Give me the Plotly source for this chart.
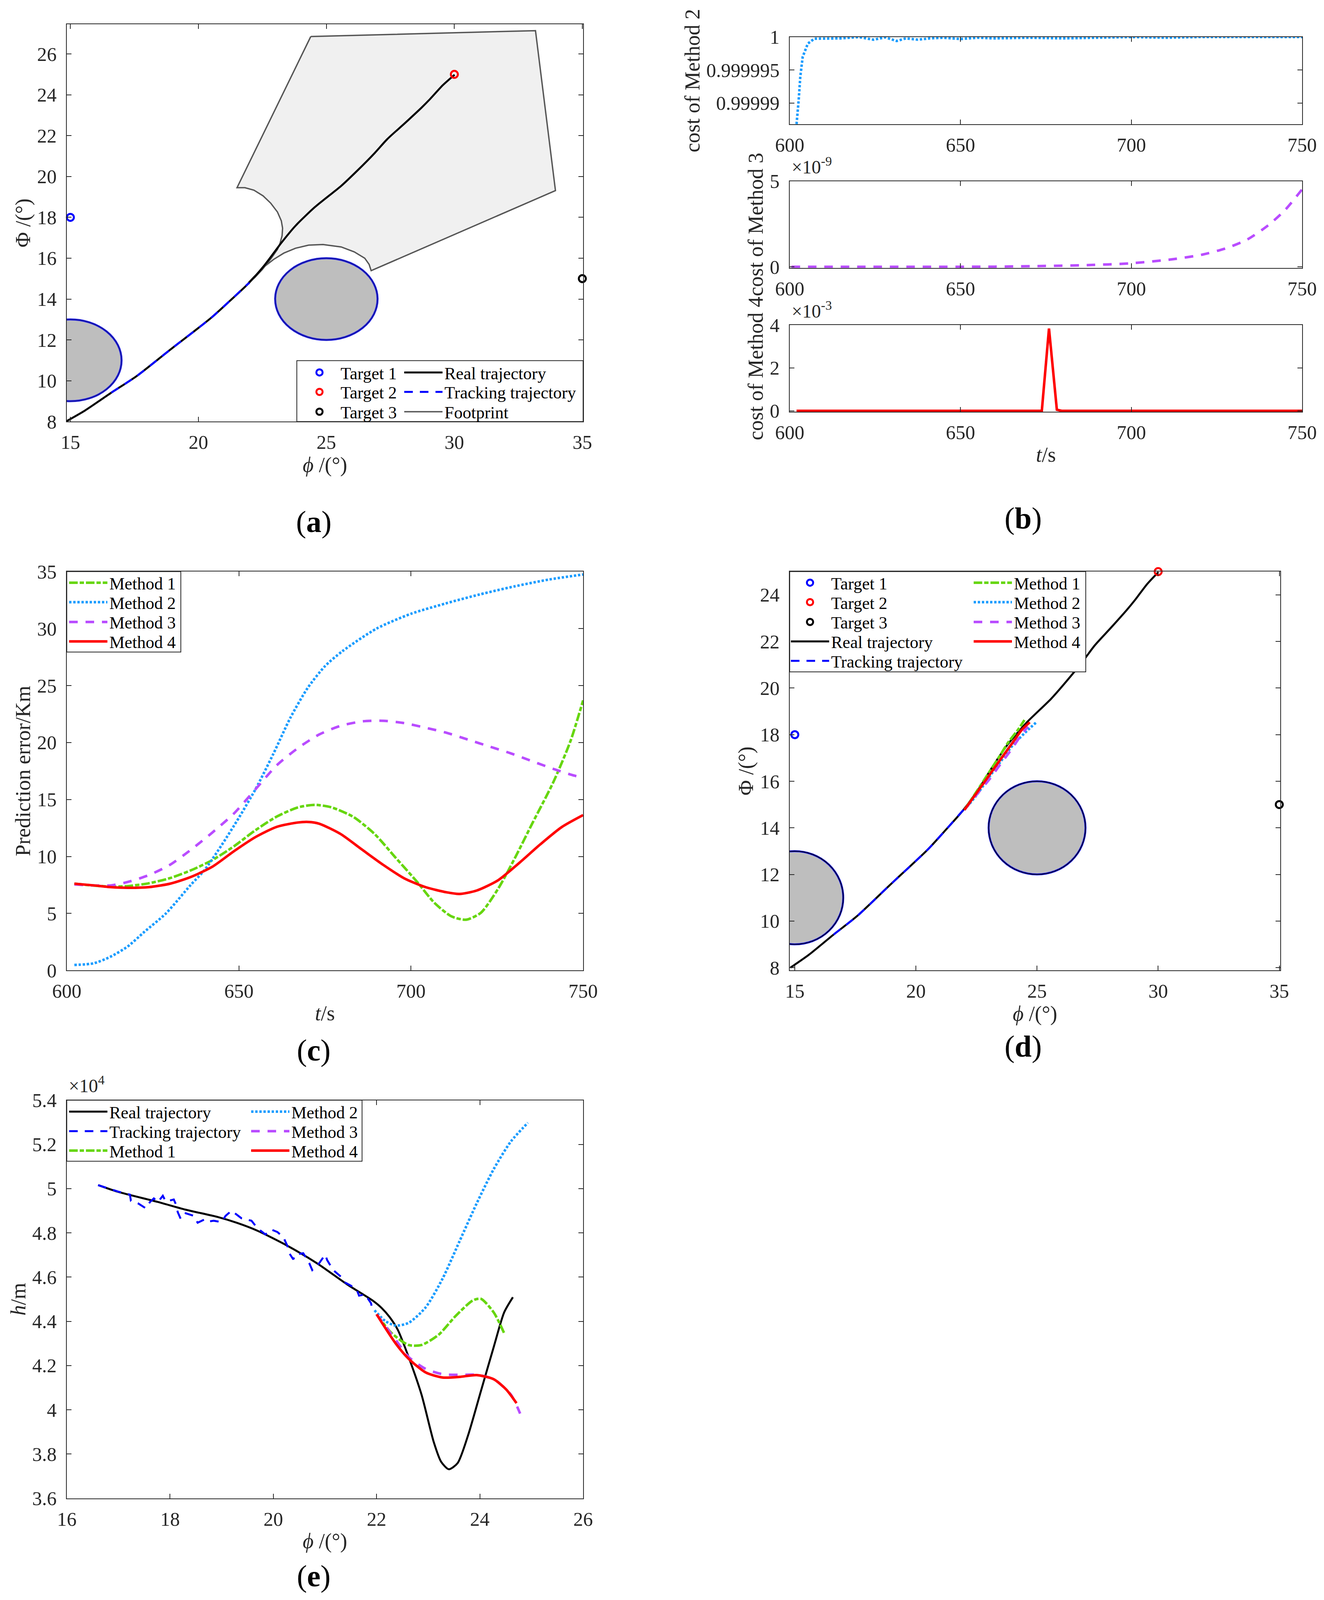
import plotly.graph_objects as go

REF_W, REF_H = 3390, 4277          # reference canvas, used for relative placement
FONT = "Liberation Serif"
AXC = "#262626"

# ---------------- data ----------------
# (a)/(d): longitude phi, latitude Phi (deg)
REAL_PHI = [14.82, 15.58, 16.58, 17.58, 18.91, 20.49, 21.23, 21.92, 22.56, 23.24, 23.79,
            24.56, 25.58, 26.22, 26.89, 27.38, 28.05, 28.71, 29.05, 29.55, 30.01]
REAL_LAT = [8.00, 8.55, 9.40, 10.22, 11.53, 13.07, 13.91, 14.72, 15.62, 16.75, 17.58,
            18.51, 19.54, 20.30, 21.15, 21.83, 22.59, 23.36, 23.79, 24.47, 24.98]
TRACK_PHI = [16.60, 17.58, 18.90, 20.48, 21.22, 21.92, 22.00]
TRACK_LAT = [9.42, 10.22, 11.52, 13.06, 13.90, 14.72, 14.80]

TARGET_NAMES = ["Target 1", "Target 2", "Target 3"]
TARGET_PHI = [15, 30, 35]
TARGET_LAT = [18, 25, 15]
TARGET_COLORS = ["#0000FF", "#FF0000", "#000000"]

OBST_PHI = [15, 25]
OBST_LAT = [11, 14]
OBST_R = [2, 2]

FOOT_PHI = [24.39, 33.17, 33.95, 26.75, 26.67, 26.50, 26.09, 25.58, 24.87, 24.31, 23.80,
            23.34, 22.94, 22.63, 22.43, 22.17, 21.95, 22.20, 22.50, 22.85, 23.09, 23.19,
            23.27, 23.29, 23.24, 23.09, 22.83, 22.53, 22.17, 21.82, 21.51, 24.39]
FOOT_LAT = [26.85, 27.14, 19.31, 15.39, 15.70, 16.00, 16.31, 16.55, 16.67, 16.64, 16.49,
            16.25, 15.94, 15.64, 15.39, 15.09, 14.80, 15.05, 15.45, 16.00, 16.43, 16.73,
            17.10, 17.47, 17.83, 18.26, 18.69, 19.05, 19.33, 19.45, 19.45, 26.85]

# (d) predicted ground tracks
D_M1_PHI = [22.0, 22.5, 23.0, 23.5, 23.79, 24.22, 24.48]
D_M1_LAT = [14.77, 15.55, 16.35, 17.15, 17.64, 18.22, 18.63]
D_M2_PHI = [22.0, 22.5, 23.03, 23.5, 24.0, 24.64, 24.97]
D_M2_LAT = [14.77, 15.40, 16.19, 16.85, 17.55, 18.22, 18.53]
D_M3_PHI = [22.0, 22.5, 23.03, 23.5, 24.0, 24.3, 24.62]
D_M3_LAT = [14.77, 15.42, 16.08, 16.75, 17.45, 17.92, 18.35]
D_M4_PHI = [22.0, 22.5, 23.0, 23.5, 24.0, 24.38, 24.70]
D_M4_LAT = [14.77, 15.49, 16.22, 16.95, 17.67, 18.22, 18.53]

# (b) cost values vs time
B2_T = [601.2, 602.0, 602.6, 603.1, 603.8, 605.3, 607.2, 610.0, 615.0, 620.2, 624.5, 628.0,
        631.3, 634.0, 637.5, 641.0, 645.0, 650.0, 655.0, 660.0, 670.0, 680.0, 690.0, 700.0,
        710.0, 720.0, 730.0, 740.0, 750.0]
B2_V = [0.99998, 0.9999868, 0.9999903, 0.999994, 0.999997, 0.999999, 0.99999975, 0.9999998,
        0.9999998, 1.0, 0.9999996, 0.99999995, 0.9999994, 0.9999998, 0.9999996, 0.9999998,
        0.9999999, 0.9999997, 0.9999999, 0.9999998, 0.9999999, 0.9999998, 0.9999999, 1.0,
        0.9999999, 1.0, 1.0, 1.0, 1.0]
B3_T = [600.5, 620, 640, 660, 672, 687, 699.5, 712, 720.5, 728, 734, 740, 745, 750]
B3_V = [0, 0, 0, 0.01e-9, 0.04e-9, 0.1e-9, 0.2e-9, 0.44e-9, 0.7e-9, 1.1e-9, 1.6e-9,
        2.41e-9, 3.31e-9, 4.52e-9]
B4_T = [602.0, 673.8, 675.9, 678.2, 679.6, 750.0]
B4_V = [0, 0, 3.84e-3, 0.05e-3, 0, 0]

# (c) prediction error (km)
C_M1_T = [602.2, 607.8, 612.7, 617.7, 623.9, 630.0, 636.2, 642.4, 648.6, 654.8, 661.0, 667.1,
          672.1, 677.0, 683.2, 689.4, 695.6, 701.8, 706.7, 711.7, 716.0, 720.3, 725.3, 730.2,
          735.2, 741.3, 746.3, 750.0]
C_M1_E = [7.61, 7.45, 7.35, 7.40, 7.65, 8.10, 8.80, 9.70, 10.90, 12.30, 13.50, 14.30, 14.53,
          14.30, 13.48, 11.98, 9.87, 7.76, 5.96, 4.75, 4.45, 5.06, 7.16, 9.87, 12.88, 16.49,
          20.10, 23.70]
C_M2_T = [602.2, 607.8, 612.7, 617.7, 622.6, 628.8, 636.0, 640.0, 645.0, 650.0, 655.0, 660.0,
          665.0, 670.0, 675.0, 680.0, 690.0, 700.0, 710.0, 720.0, 730.0, 740.0, 750.0]
C_M2_E = [0.48, 0.62, 1.20, 2.10, 3.40, 5.00, 7.50, 8.80, 11.00, 13.40, 16.00, 19.00, 22.20,
          24.80, 26.70, 28.00, 30.00, 31.30, 32.20, 33.00, 33.70, 34.30, 34.75]
C_M3_T = [602.2, 607.2, 612.7, 617.7, 623.9, 630.0, 636.2, 642.4, 648.6, 654.8, 661.0, 667.1,
          673.3, 679.5, 685.7, 691.9, 698.1, 704.2, 710.4, 716.6, 722.8, 729.0, 735.2, 741.3,
          747.5, 750.0]
C_M3_E = [7.55, 7.46, 7.46, 7.76, 8.37, 9.27, 10.62, 12.13, 13.78, 15.89, 18.00, 19.50, 20.70,
          21.46, 21.85, 21.91, 21.70, 21.30, 20.85, 20.25, 19.65, 19.05, 18.36, 17.69, 17.09,
          16.90]
C_M4_T = [602.2, 607.8, 612.7, 617.7, 623.9, 630.0, 636.2, 642.4, 648.6, 654.8, 661.0, 667.1,
          670.2, 673.3, 679.5, 685.7, 691.9, 698.1, 704.2, 710.4, 714.1, 719.1, 725.3, 731.4,
          737.6, 743.8, 750.0]
C_M4_E = [7.61, 7.46, 7.31, 7.25, 7.31, 7.61, 8.22, 9.12, 10.47, 11.70, 12.60, 12.98, 13.03,
          12.88, 11.98, 10.62, 9.27, 8.07, 7.31, 6.85, 6.71, 7.01, 7.91, 9.42, 11.07, 12.58,
          13.63]

# (e) altitude (m) vs longitude
E_REAL_PHI = [16.61, 17.00, 17.76, 18.30, 18.92, 19.30, 19.69, 20.27, 20.85, 21.43, 21.93,
              22.10, 22.25, 22.41, 22.62, 22.87, 23.11, 23.25, 23.40, 23.57, 23.77, 24.02,
              24.27, 24.47, 24.64]
E_REAL_H = [50160, 49850, 49400, 49050, 48720, 48450, 48100, 47420, 46620, 45670, 44930,
            44600, 44200, 43620, 42390, 40690, 38520, 37650, 37310, 37590, 38830, 40840,
            42850, 44400, 45090]
E_TRACK_PHI = [16.605, 16.76, 16.991, 17.223, 17.242, 17.377, 17.532, 17.609, 17.686, 17.763,
               17.86, 17.917, 18.072, 18.11, 18.149, 18.207, 18.303, 18.458, 18.535, 18.689,
               18.766, 18.844, 18.998, 19.075, 19.191, 19.384, 19.577, 19.693, 19.847, 19.963,
               20.078, 20.194, 20.271, 20.31, 20.387, 20.426, 20.58, 20.696, 20.754, 20.889,
               21.005, 21.043, 21.159, 21.313, 21.371, 21.506, 21.622, 21.661, 21.776, 21.892,
               21.931]
E_TRACK_H = [50160, 50040, 49870, 49730, 49450, 49340, 49110, 49390, 49560, 49390, 49680,
             49420, 49510, 49310, 48940, 48630, 48890, 48770, 48460, 48630, 48520, 48550,
             48490, 48770, 49000, 48660, 48550, 48210, 47930, 48150, 48040, 47810, 47420,
             47080, 46800, 47020, 47080, 46630, 46320, 46630, 47020, 46770, 46320, 46010,
             45780, 45610, 45390, 45160, 45220, 44820, 44430]
E_M1_PHI = [22.00, 22.29, 22.62, 22.87, 23.20, 23.53, 23.86, 24.02, 24.27, 24.47]
E_M1_H = [44320, 43470, 42930, 42930, 43390, 44240, 44940, 45020, 44400, 43470]
E_M2_PHI = [21.96, 22.17, 22.37, 22.62, 22.95, 23.28, 23.61, 23.94, 24.27, 24.60, 24.93]
E_M2_H = [44500, 44010, 43810, 43930, 44630, 45940, 47640, 49340, 50890, 52130, 52980]
E_M3_PHI = [22.00, 22.37, 22.62, 22.95, 23.28, 23.61, 23.94, 24.27, 24.60, 24.78]
E_M3_H = [44320, 43160, 42390, 41850, 41610, 41580, 41580, 41380, 40690, 39830]
E_M4_PHI = [22.00, 22.37, 22.62, 22.95, 23.28, 23.61, 23.94, 24.27, 24.51, 24.71]
E_M4_H = [44320, 43000, 42310, 41690, 41460, 41490, 41570, 41380, 40920, 40300]

# tick labels
A_XTICKS = [15, 20, 25, 30, 35]
A_YTICKS = [8, 10, 12, 14, 16, 18, 20, 22, 24, 26]
D_YTICKS = [8, 10, 12, 14, 16, 18, 20, 22, 24]
T_TICKS = [600, 650, 700, 750]
B2_TICKVALS = [0.99999, 0.999995, 1.0]
B2_TICKTEXT = ["0.99999", "0.999995", "1"]
B3_TICKVALS = [0, 5e-9]
B3_TICKTEXT = ["0", "5"]
B4_TICKVALS = [0, 2e-3, 4e-3]
B4_TICKTEXT = ["0", "2", "4"]
C_YTICKS = [0, 5, 10, 15, 20, 25, 30, 35]
E_XTICKS = [16, 18, 20, 22, 24, 26]
E_YTICKVALS = [36000, 38000, 40000, 42000, 44000, 46000, 48000, 50000, 52000, 54000]
E_YTICKTEXT = ["3.6", "3.8", "4", "4.2", "4.4", "4.6", "4.8", "5", "5.2", "5.4"]

METHOD_NAMES = ["Method 1", "Method 2", "Method 3", "Method 4"]
METHOD_COLORS = ["#66D60F", "#1A9CFF", "#B94CFF", "#FF0000"]
METHOD_DASH = ["22px,5px,11px,5px", "6px,4.5px", "22px,20px", "solid"]
TRACK_DASH = "22px,18px"
LW = 6.5
RW = 5

# ---------------- helpers ----------------
def fx(x):
    return x / REF_W

def fy(y):
    return 1 - y / REF_H

AX = dict(showline=True, linecolor=AXC, linewidth=2, mirror="ticks", ticks="inside",
          ticklen=12, tickwidth=2, tickcolor=AXC, showgrid=False, zeroline=False,
          tickfont=dict(family=FONT, size=50, color=AXC),
          title_font=dict(family=FONT, size=54, color=AXC), automargin=False)

def xax(x0, x1, anchor, rng, tickvals, title=None, ticktext=None, standoff=10):
    d = dict(AX, domain=[fx(x0), fx(x1)], anchor=anchor, range=rng, tickvals=tickvals,
             ticklabelstandoff=8)
    if ticktext is not None:
        d["ticktext"] = ticktext
    if title:
        d["title"] = dict(text=title, standoff=standoff)
    return d

def yax(y0, y1, anchor, rng, tickvals, title=None, ticktext=None, standoff=0):
    d = dict(AX, domain=[fy(y1), fy(y0)], anchor=anchor, range=rng, tickvals=tickvals,
             ticklabelstandoff=14)
    if ticktext is not None:
        d["ticktext"] = ticktext
    if title:
        d["title"] = dict(text=title, standoff=standoff)
    return d

fig = go.Figure()
LEGENDS = {}

def new_legend(x_left, row_y, iw=98):
    key = "legend" if not LEGENDS else "legend%d" % (len(LEGENDS) + 1)
    LEGENDS[key] = dict(x=fx(x_left), y=fy(row_y), xanchor="left", yanchor="middle",
                        bgcolor="rgba(0,0,0,0)", borderwidth=0, itemwidth=iw,
                        font=dict(family=FONT, size=44, color="#000000"))
    return key

def line(x, y, xa, ya, name, color, dash="solid", width=LW, leg=None, shape="spline"):
    tr = go.Scatter(x=x, y=y, xaxis=xa, yaxis=ya, mode="lines", name=name,
                    line=dict(color=color, dash=dash, width=width, shape=shape,
                              smoothing=0.7 if shape == "spline" else None),
                    showlegend=leg is not None, hoverinfo="skip")
    if leg is not None:
        tr.legend = new_legend(*leg)
    fig.add_trace(tr)

def targets(xa, ya, x_left, rows):
    for i in range(3):
        fig.add_trace(go.Scatter(
            x=[TARGET_PHI[i]], y=[TARGET_LAT[i]], xaxis=xa, yaxis=ya, mode="markers",
            name=TARGET_NAMES[i], cliponaxis=False,
            marker=dict(symbol="circle-open", size=18, color=TARGET_COLORS[i],
                        line=dict(width=5, color=TARGET_COLORS[i])),
            legend=new_legend(x_left, rows[i]), hoverinfo="skip"))

# ---------------- panel (a) ----------------
A_ROWS = [996, 1048, 1101]
fig.add_trace(go.Scatter(x=FOOT_PHI, y=FOOT_LAT, xaxis="x", yaxis="y", mode="lines",
                         fill="toself", fillcolor="#F0F0F0", line=dict(width=0),
                         showlegend=False, hoverinfo="skip"))
line(FOOT_PHI, FOOT_LAT, "x", "y", "Footprint", "#555555", width=3.5,
     leg=(1030, A_ROWS[2]), shape="linear")
line(REAL_PHI, REAL_LAT, "x", "y", "Real trajectory", "#000000", width=RW,
     leg=(1030, A_ROWS[0]))
line(TRACK_PHI, TRACK_LAT, "x", "y", "Tracking trajectory", "#0000FF", dash=TRACK_DASH,
     width=RW, leg=(1030, A_ROWS[1]))
targets("x", "y", 764, A_ROWS)

# ---------------- panel (b) ----------------
line(B2_T, B2_V, "x2", "y2", "Method 2", METHOD_COLORS[1], dash=METHOD_DASH[1],
     shape="linear")
line(B3_T, B3_V, "x3", "y3", "Method 3", METHOD_COLORS[2], dash=METHOD_DASH[2])
line(B4_T, B4_V, "x4", "y4", "Method 4", METHOD_COLORS[3], shape="linear")

# ---------------- panel (c) ----------------
C_ROWS = [1558, 1610, 1663, 1715]
C_T = [C_M1_T, C_M2_T, C_M3_T, C_M4_T]
C_E = [C_M1_E, C_M2_E, C_M3_E, C_M4_E]
for i in range(4):
    line(C_T[i], C_E[i], "x5", "y5", METHOD_NAMES[i], METHOD_COLORS[i],
         dash=METHOD_DASH[i], leg=(172, C_ROWS[i]))

# ---------------- panel (d) ----------------
D_ROWS = [1558, 1610, 1663, 1715, 1767]
line(REAL_PHI, REAL_LAT, "x6", "y6", "Real trajectory", "#000000", width=RW,
     leg=(2020, D_ROWS[3]))
line(TRACK_PHI, TRACK_LAT, "x6", "y6", "Tracking trajectory", "#0000FF", dash=TRACK_DASH,
     width=RW, leg=(2020, D_ROWS[4]))
D_PHI = [D_M1_PHI, D_M2_PHI, D_M3_PHI, D_M4_PHI]
D_LAT = [D_M1_LAT, D_M2_LAT, D_M3_LAT, D_M4_LAT]
for i in range(4):
    line(D_PHI[i], D_LAT[i], "x6", "y6", METHOD_NAMES[i], METHOD_COLORS[i],
         dash=METHOD_DASH[i], leg=(2488, D_ROWS[i]))
targets("x6", "y6", 2020, D_ROWS[:3])

# ---------------- panel (e) ----------------
E_ROWS = [2972, 3024, 3076]
line(E_REAL_PHI, E_REAL_H, "x7", "y7", "Real trajectory", "#000000", width=RW,
     leg=(172, E_ROWS[0]))
line(E_TRACK_PHI, E_TRACK_H, "x7", "y7", "Tracking trajectory", "#0000FF",
     dash=TRACK_DASH, width=RW, leg=(172, E_ROWS[1]), shape="linear")
E_PHI = [E_M1_PHI, E_M2_PHI, E_M3_PHI, E_M4_PHI]
E_H = [E_M1_H, E_M2_H, E_M3_H, E_M4_H]
for i in range(4):
    pos = (172, E_ROWS[2]) if i == 0 else (638, E_ROWS[i - 1])
    line(E_PHI[i], E_H[i], "x7", "y7", METHOD_NAMES[i], METHOD_COLORS[i],
         dash=METHOD_DASH[i], leg=pos)

# ---------------- axes ----------------
PHI_T = "<i>ϕ</i> /(°)"
LAT_T = "Φ /(°)"
TS_T = "<i>t</i>/s"
layout_axes = dict(
    xaxis=xax(171, 1493, "y", [14.86, 35.03], A_XTICKS, PHI_T),
    yaxis=yax(65, 1127, "x", [8, 27.45], A_YTICKS, LAT_T),
    xaxis2=xax(2022, 3334, "y2", [600, 750], T_TICKS),
    yaxis2=yax(99, 332, "x2", [0.9999868, 1.0], B2_TICKVALS, "cost of Method 2",
               B2_TICKTEXT),
    xaxis3=xax(2022, 3334, "y3", [600, 750], T_TICKS),
    yaxis3=yax(484, 716, "x3", [-0.06e-9, 5e-9], B3_TICKVALS, "cost of Method 3",
               B3_TICKTEXT),
    xaxis4=xax(2022, 3334, "y4", [600, 750], T_TICKS, TS_T),
    yaxis4=yax(869, 1101, "x4", [-0.05e-3, 4e-3], B4_TICKVALS, "cost of Method 4",
               B4_TICKTEXT),
    xaxis5=xax(171, 1493, "y5", [600, 750], T_TICKS, TS_T),
    yaxis5=yax(1528, 2594, "x5", [0, 35], C_YTICKS, "Prediction error/Km"),
    xaxis6=xax(2022, 3278, "y6", [14.79, 35.04], A_XTICKS, PHI_T),
    yaxis6=yax(1528, 2594, "x6", [7.88, 25.0], D_YTICKS, LAT_T),
    xaxis7=xax(171, 1493, "y7", [16, 26], E_XTICKS, PHI_T),
    yaxis7=yax(2941, 4005, "x7", [36000, 54000], E_YTICKVALS, "<i>h</i>/m", E_YTICKTEXT),
)

shapes = []
# obstacles (a) and (d)
for xa, ya, inner in (("x", "y", "#20208A"), ("x6", "y6", "#000000")):
    for cx, cy, r in zip(OBST_PHI, OBST_LAT, OBST_R):
        shapes.append(dict(type="circle", xref=xa, yref=ya, x0=cx - r, x1=cx + r,
                           y0=cy - r, y1=cy + r, fillcolor="#BEBEBE",
                           line=dict(color="#1010F0", width=5), layer="below"))
        shapes.append(dict(type="circle", xref=xa, yref=ya, x0=cx - r, x1=cx + r,
                           y0=cy - r, y1=cy + r, fillcolor="rgba(0,0,0,0)",
                           line=dict(color=inner, width=2), layer="below"))
# legend boxes
for (x0, y0, x1, y1) in ((760, 964, 1493, 1127), (171, 1528, 463, 1743),
                         (2022, 1528, 2780, 1796), (171, 2941, 927, 3104)):
    shapes.append(dict(type="rect", xref="paper", yref="paper", x0=fx(x0), x1=fx(x1),
                       y0=fy(y1), y1=fy(y0), fillcolor="#FFFFFF",
                       line=dict(color=AXC, width=2), layer="above"))

annotations = []
for lab, cx, cy in (("a", 803, 1394), ("b", 2619, 1385), ("c", 803, 2807),
                    ("d", 2619, 2797), ("e", 803, 4213)):
    annotations.append(dict(text="(<b>%s</b>)" % lab, x=fx(cx), y=fy(cy), xref="paper",
                            yref="paper", xanchor="center", yanchor="middle",
                            showarrow=False, font=dict(family=FONT, size=78,
                                                       color="#000000")))
for txt, lx, by in (("×10<sup>-9</sup>", 2025, 476), ("×10<sup>-3</sup>", 2025, 861),
                    ("×10<sup>4</sup>", 174, 2932)):
    annotations.append(dict(text=txt, x=fx(lx), y=fy(by), xref="paper", yref="paper",
                            xanchor="left", yanchor="bottom", showarrow=False,
                            font=dict(family=FONT, size=48, color=AXC)))

fig.update_layout(autosize=True, margin=dict(l=0, r=0, t=0, b=0, pad=0),
                  paper_bgcolor="#FFFFFF", plot_bgcolor="#FFFFFF",
                  font=dict(family=FONT, color=AXC), shapes=shapes,
                  annotations=annotations, **layout_axes, **LEGENDS)

fig.write_html("out.html", default_width="100vw", default_height="100vh",
               config={"displayModeBar": False, "responsive": True},
               post_script="document.body.style.margin='0';"
                           "document.body.style.overflow='hidden';")
